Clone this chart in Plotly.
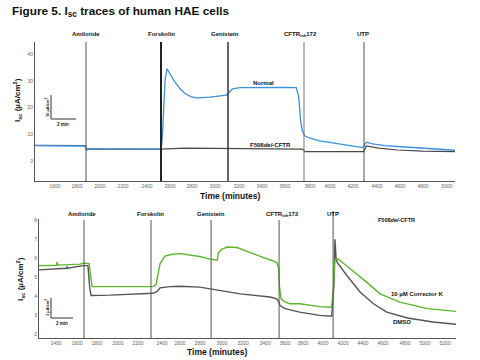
import plotly.graph_objects as go

# ---------------- data (top panel: time in minutes) ----------------
top_events = ["Amiloride", "Forskolin", "Genistein", "CFTR<sub>inh</sub>172", "UTP"]
top_event_t = [4.08, 10.08, 15.44, 21.52, 26.32]

normal_t = [0, 2.0, 4.0, 4.12, 4.35, 6.0, 8.0, 10.1, 10.2, 10.3, 10.4, 10.55, 10.8, 11.2, 11.6,
            12.0, 12.5, 13.0, 14.0, 15.3, 15.5, 15.8, 16.4, 18.0, 20.0, 20.9, 21.1, 21.25, 21.4,
            21.6, 22.0, 22.8, 23.8, 25.0, 26.2, 26.35, 26.5, 27.0, 28.0, 29.0, 30.0, 31.0, 32.0, 33.6]
normal_v = [5.7, 5.7, 5.6, 4.0, 4.6, 4.5, 4.4, 4.4, 10, 22, 30, 34.5, 32.5, 29.5, 27.0,
            25.2, 24.0, 23.6, 23.9, 24.6, 25.5, 27.0, 27.4, 27.5, 27.5, 27.4, 24.0, 15.0, 11.0,
            9.3, 8.5, 7.5, 6.7, 6.0, 5.0, 6.0, 7.0, 6.4, 5.7, 5.4, 5.1, 4.8, 4.5, 4.0]

f508_t = [0, 4.0, 4.15, 6, 10, 12, 14, 16, 18, 21.4, 21.6, 24, 26.3, 26.5, 27.5, 29, 31, 33.6]
f508_v = [5.8, 5.7, 4.4, 4.4, 4.4, 4.8, 4.7, 4.6, 4.5, 4.4, 3.5, 3.4, 3.5, 5.6, 4.8, 4.1, 3.7, 3.5]

top_tick_t = [1.6, 3.36, 5.2, 7.04, 8.96, 10.8, 12.56, 14.4, 16.32, 18.16, 20.0, 22.0,
              23.6, 25.44, 27.36, 29.2, 31.04, 32.96]
top_tick_labels = ["1600", "1800", "2000", "2200", "2400", "2600", "2800", "3000", "3200",
                   "3400", "3600", "3800", "4000", "4200", "4400", "4600", "4800", "5000"]

# ---------------- data (bottom panel: time in minutes) ----------------
bot_events = ["Amiloride", "Forskolin", "Genistein", "CFTR<sub>inh</sub>172", "UTP"]
bot_event_t = [4.09, 10.18, 15.64, 21.82, 26.73]

corr_t = [0, 1.6, 1.64, 1.7, 3.73, 4.09, 4.55, 4.68, 4.82, 6.45, 8.55, 10.36, 10.64, 10.82, 11.0,
          11.45, 12.1, 12.8, 13.7, 14.6, 15.55, 16.2, 16.3, 16.6, 17.1, 18.0, 19.2, 20.4, 21.6,
          21.77, 21.86, 22.0, 22.36, 22.8, 23.7, 25.5, 26.6, 26.77, 26.9, 27.2, 27.6, 28.5, 29.8,
          31.0, 32.8, 35.3, 37.9]
corr_v = [5.6, 5.62, 5.8, 5.63, 5.68, 5.73, 5.7, 5.0, 4.5, 4.5, 4.52, 4.5, 4.6, 5.16, 5.7,
          6.1, 6.2, 6.23, 6.17, 6.08, 5.94, 5.89, 6.28, 6.45, 6.58, 6.55, 6.28, 6.03, 5.77,
          5.5, 4.47, 3.86, 3.7, 3.6, 3.6, 3.45, 3.42, 4.5, 5.9, 5.95, 5.77, 5.33, 4.72,
          4.12, 3.68, 3.34, 3.2]

dmso_t = [0, 2.5, 2.55, 2.6, 4.0, 4.45, 4.6, 4.73, 6.45, 8.55, 10.36, 10.73, 11.0, 11.9, 12.8,
          14.6, 15.64, 18.3, 21.0, 21.6, 21.8, 21.9, 22.36, 23.7, 25.5, 26.6, 26.8, 26.9, 27.0,
          27.1, 28.0, 29.2, 30.4, 31.6, 33.5, 35.8, 37.9]
dmso_v = [5.38, 5.46, 5.56, 5.47, 5.6, 5.6, 4.5, 4.03, 4.05, 4.12, 4.15, 4.25, 4.43, 4.5, 4.52,
          4.47, 4.38, 4.12, 3.95, 3.86, 3.7, 3.5, 3.34, 3.16, 2.99, 2.94, 4.5, 6.98, 6.0,
          5.77, 5.07, 4.2, 3.6, 3.16, 2.85, 2.64, 2.52]

bot_tick_t = [1.55, 3.45, 5.27, 7.18, 9.0, 11.18, 12.82, 14.64, 16.64, 18.55, 20.55, 22.36,
              24.0, 25.82, 27.64, 29.45, 31.27, 33.27, 35.09, 36.91]
bot_tick_labels = ["1400", "1600", "1800", "2000", "2200", "2400", "2600", "2800", "3000",
                   "3200", "3400", "3600", "3800", "4000", "4200", "4400", "4600", "4800",
                   "5000", "5200"]

# ---------------- figure ----------------
W, H = 480, 360
def px(x):
    return x / W
def py(y):
    return 1 - y / H

FONT = "Liberation Sans, Arial, sans-serif"
fig = go.Figure()

fig.add_trace(go.Scatter(x=f508_t, y=f508_v, mode="lines", line=dict(color="#4a4a4a", width=1.2),
                         xaxis="x", yaxis="y", showlegend=False, hoverinfo="skip"))
fig.add_trace(go.Scatter(x=normal_t, y=normal_v, mode="lines", line=dict(color="#3d8fe0", width=1.3),
                         xaxis="x", yaxis="y", showlegend=False, hoverinfo="skip"))
fig.add_trace(go.Scatter(x=dmso_t, y=dmso_v, mode="lines", line=dict(color="#555555", width=1.4),
                         xaxis="x2", yaxis="y2", showlegend=False, hoverinfo="skip"))
fig.add_trace(go.Scatter(x=corr_t, y=corr_v, mode="lines", line=dict(color="#5cb82b", width=1.4),
                         xaxis="x2", yaxis="y2", showlegend=False, hoverinfo="skip"))

axis_common = dict(showgrid=False, zeroline=False, showline=True, linecolor="#555555", linewidth=1,
                   ticks="", tickfont=dict(size=5, color="#666666", family=FONT), fixedrange=True,
                   automargin=False)

fig.update_layout(
    width=W, height=H, margin=dict(l=0, r=0, t=0, b=0),
    paper_bgcolor="white", plot_bgcolor="white",
    xaxis=dict(domain=[px(35), px(455)], range=[0, 33.6], anchor="y",
               tickvals=top_tick_t, ticktext=top_tick_labels, **axis_common),
    yaxis=dict(domain=[py(181), py(42)], range=[-7.5, 44.5], anchor="x",
               tickvals=[0, 10, 20, 30, 40], **axis_common),
    xaxis2=dict(domain=[px(39), px(456)], range=[0, 37.9], anchor="y2",
                tickvals=bot_tick_t, ticktext=bot_tick_labels, **axis_common),
    yaxis2=dict(domain=[py(338), py(219)], range=[1.8, 8.05], anchor="x2",
                tickvals=[2, 3, 4, 5, 6, 7, 8], **axis_common),
)

# event lines
top_styles = [("#555555", 1), ("#222222", 2), ("#333333", 1.5), ("#777777", 1), ("#555555", 1)]
for t, (c, w) in zip(top_event_t, top_styles):
    fig.add_shape(type="line", xref="x", yref="paper", x0=t, x1=t, y0=py(181), y1=py(42),
                  line=dict(color=c, width=w))
for i, t in enumerate(bot_event_t):
    top = py(211) if i == 4 else py(220)
    fig.add_shape(type="line", xref="x2", yref="paper", x0=t, x1=t, y0=py(338), y1=top,
                  line=dict(color="#555555", width=1))

ann = []
def text(x, y, s, size=6.5, bold=True, xanchor="center", angle=0, color="#111111"):
    if bold:
        s = "<b>" + s + "</b>"
    ann.append(dict(x=px(x), y=py(y), xref="paper", yref="paper", text=s, showarrow=False,
                    xanchor=xanchor, yanchor="middle", textangle=angle,
                    font=dict(size=size, color=color, family=FONT)))

# title
text(10, 12, "Figure 5. I<sub>sc</sub> traces of human HAE cells", size=11.8, xanchor="left")

# event labels
top_label_x = [86, 161, 225, 300, 363]
for s, x in zip(top_events, top_label_x):
    text(x, 34, s, size=6)
bot_label_x = [82, 150, 211, 282, 333]
for s, x in zip(bot_events, bot_label_x):
    text(x, 214, s, size=6)

# trace labels
text(263, 83, "Normal", size=6)
text(270, 145, "F508<i>del</i>-CFTR", size=6)
text(396, 220, "F508<i>del</i>-CFTR", size=5.5)
text(417, 294, "10 µM Corrector K", size=6)
text(402, 322, "DMSO", size=6)

# axis titles
text(17, 100, "I<sub>sc</sub> (µA/cm<sup>2</sup>)", size=8, angle=-90)
text(20, 279, "I<sub>sc</sub> (µA/cm<sup>2</sup>)", size=8, angle=-90)
text(230, 196, "Time (minutes)", size=8.5)
text(217, 352, "Time (minutes)", size=8.5)

# scale bars
text(47, 107, "10 µA/cm<sup>2</sup>", size=4, angle=-90)
text(63, 124, "2 min", size=4.5)
text(47, 308, "1 µA/cm<sup>2</sup>", size=4, angle=-90)
text(62, 323, "2 min", size=4.5)
for (x0, y0, x1, y1) in [(51, 95, 51, 119), (51, 119, 76, 119), (51, 298, 51, 318), (51, 318, 73, 318)]:
    fig.add_shape(type="line", xref="paper", yref="paper", x0=px(x0), x1=px(x1), y0=py(y0), y1=py(y1),
                  line=dict(color="#333333", width=1))

fig.update_layout(annotations=ann)
fig.write_html("out.html", config={"displayModeBar": False},
               post_script="document.body.style.margin='0';document.body.style.padding='0';")
